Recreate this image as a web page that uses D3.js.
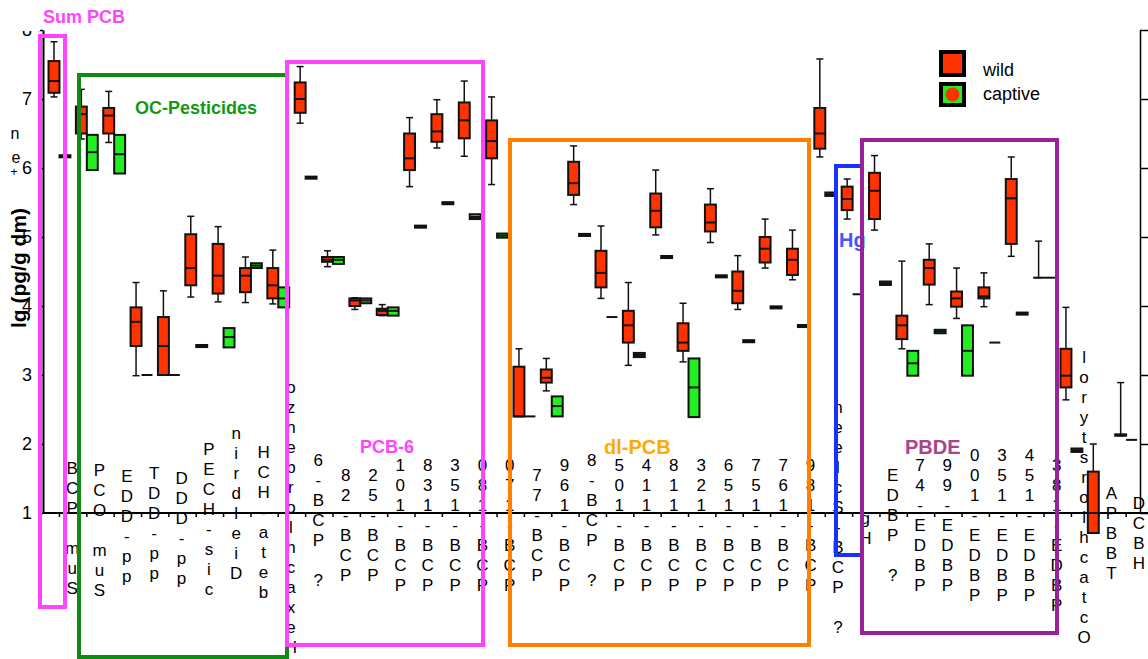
<!DOCTYPE html>
<meta charset="utf-8">
<style>
body {
    margin:0;
    background-color:white;
    font-family:"Liberation Sans", Arial, sans-serif;
    }
</style>

<script src="https://d3js.org/d3.v7.min.js"></script>

<div id="chart"></div>

<script>

// category labels, printed letter by letter from top to bottom
var labels = ["BCP muS", "PCO muS", "EDD-pp", "TDD-pp", "DDD-pp", "PECH-sic", "nirdleiD", "HCH-ateb",
  "oznebrolhcaxeH", "6-BCP ?", "82-BCP", "25-BCP", "101-BCP", "831-BCP", "351-BCP", "081-BCP",
  "071-BCP", "77-BCP", "961-BCP", "8-BCP ?", "501-BCP", "411-BCP", "811-BCP", "321-BCP",
  "651-BCP", "751-BCP", "761-BCP", "981-BCP", "neelcS-BCP ?", "gH", "EDBP ?", "74-EDBP",
  "99-EDBP", "001-EDBP", "351-EDBP", "451-EDBP", "381-EDBP", "lorytsrolhcatcO", "APBBT", "DCBH"];

// wild animals: [low whisker, q1, median, q3, high whisker]  (lg pg/g dm)
var wild = [
  [7.03, 7.09, 7.26, 7.55, 7.83], [6.42, 6.50, 6.78, 6.89, 7.14], [6.37, 6.50, 6.76, 6.87, 7.11],
  [2.99, 3.42, 3.77, 3.98, 4.34], [3.00, 3.00, 3.42, 3.84, 4.22], [4.13, 4.30, 4.55, 5.04, 5.30],
  [4.06, 4.18, 4.44, 4.90, 5.15], [4.05, 4.20, 4.44, 4.55, 4.71], [4.03, 4.11, 4.30, 4.55, 4.81],
  [6.65, 6.80, 7.00, 7.24, 7.47], [4.57, 4.64, 4.67, 4.71, 4.80], [3.95, 4.00, 4.08, 4.11, 4.12],
  [3.86, 3.87, 3.93, 3.96, 4.02], [5.73, 5.97, 6.14, 6.50, 6.73], [6.29, 6.38, 6.53, 6.78, 6.99],
  [6.17, 6.43, 6.69, 6.95, 7.26], [5.76, 6.14, 6.39, 6.69, 7.03], [2.40, 2.40, 2.40, 3.12, 3.38],
  [2.77, 2.89, 2.96, 3.08, 3.24], [5.47, 5.61, 5.78, 6.09, 6.32], [4.11, 4.27, 4.48, 4.80, 5.16],
  [3.14, 3.47, 3.72, 3.93, 4.34], [5.03, 5.14, 5.38, 5.63, 5.97], [3.19, 3.35, 3.47, 3.75, 4.04],
  [4.92, 5.08, 5.21, 5.47, 5.70], [3.95, 4.04, 4.22, 4.50, 4.73], [4.55, 4.63, 4.83, 5.00, 5.26],
  [4.38, 4.45, 4.67, 4.83, 5.10], [6.16, 6.28, 6.50, 6.87, 7.58], [5.26, 5.39, 5.55, 5.73, 5.84],
  [5.10, 5.26, 5.67, 5.93, 6.18], [3.38, 3.52, 3.72, 3.86, 4.65], [4.02, 4.31, 4.55, 4.67, 4.90],
  [3.82, 3.99, 4.11, 4.21, 4.55], [3.99, 4.11, 4.14, 4.27, 4.48], [4.72, 4.90, 5.56, 5.84, 6.16],
  [4.41, 4.41, 4.41, 4.41, 4.94], [2.64, 2.82, 2.99, 3.38, 3.98], [0.71, 0.71, 1.00, 1.60, 2.00],
  [2.12, 2.12, 2.13, 2.14, 2.89]
];

// captive animals: [q1, median, q3], null = no data
var captive = [
  [6.155, 6.17, 6.185], [5.97, 6.23, 6.48], [5.92, 6.20, 6.48],
  [3.00, 3.00, 3.00], [3.00, 3.00, 3.00], [3.405, 3.42, 3.435],
  [3.40, 3.55, 3.68], [4.55, 4.585, 4.62], [3.98, 4.11, 4.27],
  [5.845, 5.86, 5.875], [4.61, 4.67, 4.71], [4.04, 4.08, 4.11],
  [3.86, 3.93, 3.98], [5.135, 5.15, 5.165], [5.475, 5.49, 5.505],
  [5.26, 5.29, 5.33], [4.99, 5.02, 5.05], [2.40, 2.40, 2.40],
  [2.40, 2.55, 2.69], [5.015, 5.03, 5.045], [3.84, 3.84, 3.84],
  [3.26, 3.29, 3.32], [4.695, 4.71, 4.725], [2.39, 2.82, 3.24],
  [4.415, 4.43, 4.445], [3.475, 3.49, 3.505], [3.965, 3.98, 3.995],
  [3.695, 3.71, 3.725], [5.595, 5.62, 5.645], [4.17, 4.17, 4.17],
  [4.305, 4.33, 4.355], [2.99, 3.17, 3.35], [3.605, 3.63, 3.655],
  [2.99, 3.35, 3.72], [3.47, 3.47, 3.47], [3.875, 3.89, 3.905],
  [4.41, 4.41, 4.41], [1.885, 1.91, 1.935], null,
  [2.06, 2.06, 2.06]
];

var yTicks = [1, 2, 3, 4, 5, 6, 7, 8];

// group frames drawn around the categories
var groupNames = ["Sum PCB", "OC-Pesticides", "PCB-6", "dl-PCB", "Hg", "PBDE"];

// ---------- layout ----------
var W = 1148, H = 659;
var labelTop = [468, 470, 476, 473, 478, 449, 433, 452, 387, 460, 475, 475, 465, 465, 465, 465,
  465, 475, 465, 460, 465, 465, 465, 465, 465, 465, 465, 465, 407, 518, 475, 465,
  465, 455, 455, 455, 465, 357, 493, 503];
var frames = [
  {x0: 40, x1: 65, y0: 36, y1: 607, stroke: "#ff44ff", color: "#ff44ff", tx: 43, ty: 23, fs: 18},
  {x0: 79, x1: 287, y0: 75, y1: 657, stroke: "#118a11", color: "#119911", tx: 135, ty: 114, fs: 18},
  {x0: 287, x1: 483, y0: 62, y1: 645, stroke: "#ff44ff", color: "#ff44ff", tx: 360, ty: 453, fs: 18},
  {x0: 510, x1: 809, y0: 140, y1: 645, stroke: "#ff8000", color: "#ffaa00", tx: 604, ty: 454, fs: 20},
  {x0: 836, x1: 862, y0: 166, y1: 555, stroke: "#1a30ff", color: "#4455ff", tx: 839, ty: 247, fs: 20},
  {x0: 862, x1: 1057, y0: 140, y1: 633, stroke: "#992299", color: "#aa4488", tx: 905, ty: 454, fs: 20}
];

var svg = d3.select("#chart")
  .append("svg")
    .attr("width", W)
    .attr("height", H);

var x = d3.scaleBand()
  .domain(d3.range(labels.length))
  .range([45.8, 1139.8]);
var bw = x.bandwidth();
var sub = d3.scaleBand()
  .domain(["wild", "captive"])
  .range([bw * 0.1, bw * 0.9]);

var y = d3.scaleLinear()
  .domain([1, 8])
  .range([513, 30]);

// Y axis (left)
var yAxis = svg.append("g")
  .attr("transform", "translate(43,0)")
  .call(d3.axisLeft(y).tickValues(yTicks).tickSize(5).tickSizeOuter(0).tickFormat(d3.format("d")));
yAxis.select(".domain").attr("stroke-width", 2);
yAxis.selectAll(".tick line").attr("stroke-width", 1.5);
yAxis.selectAll("text")
  .attr("font-size", 18)
  .attr("font-family", "Liberation Sans, Arial, sans-serif")
  .attr("x", -11);

// hide the top half of the "8"
svg.append("rect").attr("x", 0).attr("y", 0).attr("width", 40).attr("height", 31).attr("fill", "white");

// right axis, no labels
var yAxisR = svg.append("g")
  .attr("transform", "translate(1140,0)")
  .call(d3.axisRight(y).tickValues(yTicks).tickSize(8).tickSizeOuter(0).tickFormat(""));
yAxisR.select(".domain").attr("stroke-width", 1.5);
yAxisR.selectAll(".tick line").attr("stroke-width", 1.5);

// X axis
var xAxis = svg.append("g")
  .attr("transform", "translate(0,513)")
  .call(d3.axisBottom(x).tickSize(4).tickSizeOuter(0).tickFormat(""));
xAxis.select(".domain").remove();
xAxis.selectAll(".tick line").attr("stroke-width", 1.5);
svg.append("line")
  .attr("x1", 43).attr("x2", W)
  .attr("y1", y(1)).attr("y2", y(1))
  .attr("stroke", "black").attr("stroke-width", 2);

// y title and stray letters on the left
svg.append("text")
  .attr("transform", "translate(26,268) rotate(-90)")
  .attr("text-anchor", "middle")
  .attr("font-size", 21)
  .attr("font-weight", "bold")
  .text("lg (pg/g dm)");
svg.append("text").attr("x", 15).attr("y", 139).attr("font-size", 16).attr("text-anchor", "middle").text("n");
svg.append("text").attr("x", 16).attr("y", 163).attr("font-size", 16).attr("text-anchor", "middle").text("e");
svg.append("text").attr("x", 14).attr("y", 176).attr("font-size", 12).attr("text-anchor", "middle").text("+");

// category labels, one letter per row
var lab = svg.append("g")
  .attr("font-size", 17)
  .attr("text-anchor", "middle")
  .attr("dominant-baseline", "central");
labels.forEach(function(s, i) {
  s.split("").forEach(function(ch, j) {
    if (ch === " ") return;
    lab.append("text")
      .attr("x", x(i) + bw - 1)
      .attr("y", labelTop[i] + j * 20)
      .text(ch);
  });
});

// wild boxes
var gw = svg.append("g");
wild.forEach(function(d, i) {
  var bx = x(i) + sub("wild"), cx = bx + sub.bandwidth() / 2;
  var g = gw.append("g").attr("stroke", "#111");
  g.append("line").attr("x1", cx).attr("x2", cx).attr("y1", y(d[4])).attr("y2", y(d[3])).attr("stroke-width", 1.5);
  g.append("line").attr("x1", cx).attr("x2", cx).attr("y1", y(d[1])).attr("y2", y(d[0])).attr("stroke-width", 1.5);
  g.append("line").attr("x1", cx - 3.5).attr("x2", cx + 3.5).attr("y1", y(d[4])).attr("y2", y(d[4])).attr("stroke-width", 1.5);
  g.append("line").attr("x1", cx - 3.5).attr("x2", cx + 3.5).attr("y1", y(d[0])).attr("y2", y(d[0])).attr("stroke-width", 1.5);
  g.append("rect")
    .attr("x", bx).attr("width", sub.bandwidth())
    .attr("y", y(d[3])).attr("height", y(d[1]) - y(d[3]))
    .attr("fill", "#ff3300").attr("stroke-width", 2);
  g.append("line").attr("x1", bx).attr("x2", bx + sub.bandwidth()).attr("y1", y(d[2])).attr("y2", y(d[2])).attr("stroke-width", 2);
});

// captive boxes
var gc = svg.append("g");
captive.forEach(function(d, i) {
  if (!d) return;
  var bx = x(i) + sub("captive");
  var g = gc.append("g").attr("stroke", "#111");
  g.append("rect")
    .attr("x", bx).attr("width", sub.bandwidth())
    .attr("y", y(d[2])).attr("height", y(d[0]) - y(d[2]))
    .attr("fill", "#22ee22").attr("stroke-width", 2);
  g.append("line").attr("x1", bx).attr("x2", bx + sub.bandwidth()).attr("y1", y(d[1])).attr("y2", y(d[1])).attr("stroke-width", 2);
});

// group frames and names
frames.forEach(function(f, k) {
  svg.append("rect")
    .attr("x", f.x0).attr("y", f.y0)
    .attr("width", f.x1 - f.x0).attr("height", f.y1 - f.y0)
    .attr("fill", "none").attr("stroke", f.stroke).attr("stroke-width", 4);
  svg.append("text")
    .attr("x", f.tx).attr("y", f.ty)
    .attr("font-size", f.fs).attr("font-weight", "bold")
    .attr("fill", f.color)
    .text(groupNames[k]);
});

// legend
var lg = svg.append("g");
lg.append("rect").attr("x", 941).attr("y", 52).attr("width", 23).attr("height", 23)
  .attr("fill", "#ff3300").attr("stroke", "black").attr("stroke-width", 4);
lg.append("rect").attr("x", 941).attr("y", 84).attr("width", 23).attr("height", 21)
  .attr("fill", "#22ee22").attr("stroke", "black").attr("stroke-width", 4);
lg.append("circle").attr("cx", 952.5).attr("cy", 94.5).attr("r", 7).attr("fill", "#ff3300");
lg.append("text").attr("x", 983).attr("y", 76).attr("font-size", 18).text("wild");
lg.append("text").attr("x", 983).attr("y", 100).attr("font-size", 18).text("captive");

</script>
